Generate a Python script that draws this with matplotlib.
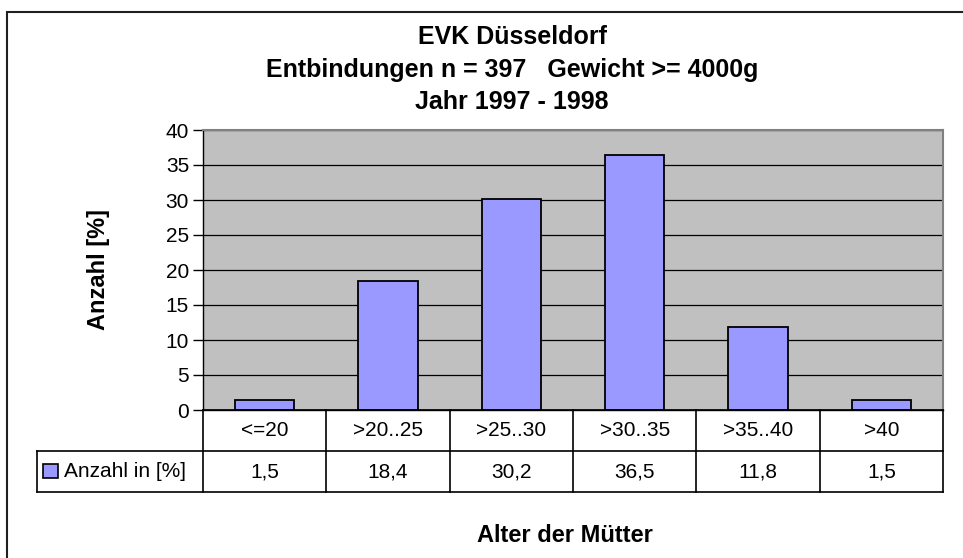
import matplotlib.pyplot as plt
from matplotlib.patches import Rectangle

plt.rcParams['font.family'] = ['Liberation Sans', 'DejaVu Sans']

# Daten
kategorien = ['<=20', '>20..25', '>25..30', '>30..35', '>35..40', '>40']
anzahl = [1.5, 18.4, 30.2, 36.5, 11.8, 1.5]
werte_text = ['1,5', '18,4', '30,2', '36,5', '11,8', '1,5']
serie_name = 'Anzahl in [%]'
titel_zeilen = ['EVK Düsseldorf', 'Entbindungen n = 397   Gewicht >= 4000g', 'Jahr 1997 - 1998']

W, H = 963, 558
fig = plt.figure(figsize=(W / 100, H / 100), dpi=100)

def px(x0, y0, x1, y1):
    # Pixelkoordinaten -> figure Koordinaten
    return [x0 / W, 1 - y1 / H, (x1 - x0) / W, (y1 - y0) / H]

# Rahmen um das Diagramm (rechts und unten abgeschnitten)
fig.patches.append(Rectangle((7 / W, -0.05), 1.2, 1 - 12 / H + 0.05,
                             transform=fig.transFigure, fill=False, ec='#202020', lw=1.5))

# Hauptdiagramm
pl, pr, pt, pb = 203, 943, 130, 410
ax = fig.add_axes(px(pl, pt, pr, pb))
ax.set_facecolor('#C0C0C0')
n = len(kategorien)
ax.bar(range(n), anzahl, width=0.48, color='#9999FF', edgecolor='black', lw=1.3, zorder=3)
ax.set_xlim(-0.5, n - 0.5)
ax.set_ylim(0, 40)
ax.set_yticks(range(0, 41, 5))
ax.yaxis.grid(True, color='black', lw=0.9, zorder=0)
ax.set_xticks([])
ax.tick_params(axis='y', labelsize=15, length=7, width=1, pad=3)
for s in ['top', 'right']:
    ax.spines[s].set_color('#808080')
    ax.spines[s].set_linewidth(1.5)
ax.spines['left'].set_linewidth(1)
ax.spines['bottom'].set_linewidth(1)

for y, zeile in zip([44, 77, 109], titel_zeilen):
    fig.text(512 / W, 1 - y / H, zeile, ha='center', va='baseline', fontsize=18,
             fontweight='bold')
fig.text(98 / W, 1 - 270 / H, 'Anzahl [%]', rotation=90, ha='center', va='center',
         fontsize=17, fontweight='bold')
fig.text(565 / W, 1 - 542 / H, 'Alter der Mütter', ha='center', va='baseline',
         fontsize=17, fontweight='bold')

# Datentabelle
tl, tt, tb = 37, 410, 492
tax = fig.add_axes(px(tl, tt, pr, tb))
cw = (pr - pl) / n
x_left = -0.5 - (pl - tl) / cw
tax.set_xlim(x_left, n - 0.5)
tax.set_ylim(0, 2)
tax.axis('off')
lkw = dict(color='black', lw=1.2, clip_on=False)
tax.plot([x_left, n - 0.5], [0, 0], **lkw)
tax.plot([x_left, n - 0.5], [1, 1], **lkw)
tax.plot([-0.5, n - 0.5], [2, 2], **lkw)
tax.plot([x_left, x_left], [0, 1], **lkw)
for i in range(n + 1):
    tax.plot([i - 0.5, i - 0.5], [0, 2], **lkw)
for i in range(n):
    tax.text(i, 1.5, kategorien[i], ha='center', va='center', fontsize=15)
    tax.text(i, 0.5, werte_text[i], ha='center', va='center', fontsize=15)
lx = x_left + 6 / cw
tax.add_patch(Rectangle((lx, 0.33), 15 / cw, 0.36, fc='#9999FF', ec='black', lw=1.2,
                        clip_on=False))
tax.text(x_left + 27 / cw, 0.5, serie_name, ha='left', va='center', fontsize=15)

fig.savefig('out.png', dpi=100)
